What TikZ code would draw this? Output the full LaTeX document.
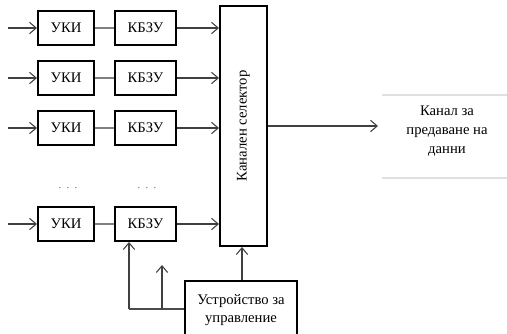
\documentclass[tikz,border=0pt]{standalone}
\usepackage{fontspec}
\setmainfont{Liberation Serif}
\newfontfamily\txtfont{Liberation Serif}
\usetikzlibrary{arrows.meta}

\tikzset{
  blockbox/.style={draw=black, line width=1.5pt, minimum height=25.5pt,
    inner sep=0pt, font=\txtfont\fontsize{11}{13}\selectfont},
  ukibox/.style={blockbox, minimum width=42pt},
  kbzubox/.style={blockbox, minimum width=45.75pt},
  flow/.style={draw=black!75, line width=0.8pt,
    -{Straight Barb[length=5pt,width=8.5pt,line width=0.8pt]}},
  link/.style={draw=black!50, line width=0.8pt},
  label/.style={font=\txtfont\fontsize{11}{14}\selectfont, align=center},
  dotsep/.style={font=\txtfont\footnotesize, text=black!60}
}

\begin{document}
\begin{tikzpicture}[x=0.75pt, y=-0.75pt]
  \useasboundingbox (0,0) rectangle (507,333);

  % channel rows: input -> УКИ -- КБЗУ
  \foreach \i/\y in {1/28, 2/78, 3/128, 4/224} {
    \node[ukibox]  (uki\i)  at (66,\y)    {УКИ};
    \node[kbzubox] (kbzu\i) at (145.5,\y) {КБЗУ};
    \coordinate (in\i) at (8,\y);
    \draw[flow] (in\i) -- (uki\i.west);
    \draw[link] (uki\i.east) -- (kbzu\i.west);
  }

  \node[dotsep] (dotsA) at (68,188) {.\ \ .\ \ .};
  \node[dotsep] (dotsB) at (147,188) {.\ \ .\ \ .};

  % channel selector
  \node[blockbox, minimum width=35.25pt, minimum height=180pt] (sel) at (243.5,126) {};
  \node[label, rotate=90] (seltext) at (sel.center) {Канален селектор};

  \foreach \i in {1,...,4}
    \draw[flow] (kbzu\i.east) -- (sel.west |- kbzu\i.east);

  % output towards the data channel
  \node[label] (out) at (447,131) {Канал за\\предаване на\\данни};
  \draw[draw=black!12, line width=0.8pt] (382,95) -- (507,95);
  \draw[draw=black!12, line width=0.8pt] (382,178) -- (507,178);
  \coordinate (outtip) at (378,126);
  \draw[flow] (sel.east |- outtip) -- (outtip);

  % control unit
  \node[blockbox, minimum width=84pt, minimum height=43.5pt, label] (ctrl) at (241,310)
    {Устройство за\\управление};
  \draw[flow] (ctrl.north -| 242,0) -- (sel.south -| 242,0);

  \coordinate (fbA) at (129,309);
  \coordinate (fbB) at (162,309);
  \coordinate (fbtip) at (162,265);
  \draw[link, draw=black!70] (ctrl.west |- fbA) -- (fbA);
  \draw[flow] (fbA) -- (kbzu4.south -| fbA);
  \draw[flow] (fbB) -- (fbtip);
\end{tikzpicture}
\end{document}
